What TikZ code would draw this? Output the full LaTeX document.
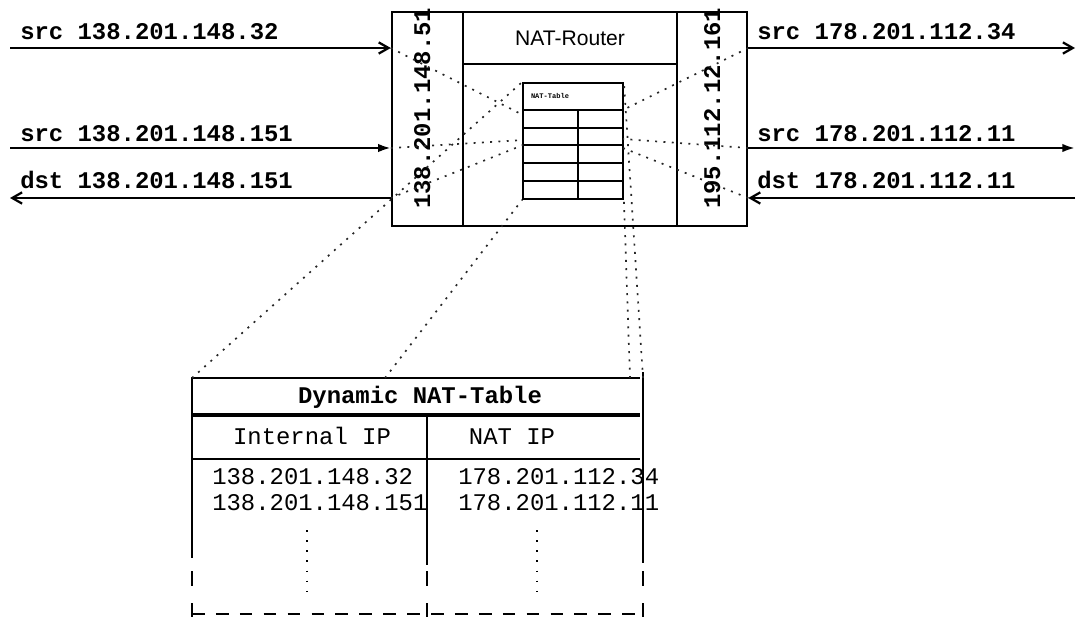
\documentclass[tikz,border=0pt]{standalone}
\usepackage{fontspec}
\setmainfont{Liberation Sans}
\setmonofont{Liberation Mono}
\usetikzlibrary{arrows.meta, positioning, fit}

\begin{document}
\begin{tikzpicture}[
        x=0.025cm, y=-0.025cm,
        box/.style={draw, line width=1.7pt, inner sep=0pt},
        addr/.style={font=\ttfamily\bfseries\fontsize{17}{19}\selectfont, inner sep=0pt},
        entry/.style={font=\ttfamily\fontsize{17}{19}\selectfont, inner sep=0pt},
        wire/.style={line width=1.6pt},
        zoomline/.style={line width=1.2pt, black!85, dash pattern=on 1.4pt off 4.5pt},
        openhead/.style={-{Straight Barb[length=7pt,width=8pt]}},
        fullhead/.style={-{Latex[length=9pt,width=6pt]}}
    ]
    \useasboundingbox (0,0) rectangle (1078,617);

    % Router with its two ports
    \node[box, fit={(392,12) (747,226)}] (router) {};
    \node[box, fit={(392,12) (463,226)}] (inport) {};
    \node[box, fit={(677,12) (747,226)}] (outport) {};
    \node[box, fit={(463,12) (677,64)}] (rtitle) {};
    \node[font=\fontsize{15}{17}\selectfont] (rname) at (rtitle.center) {NAT-Router};

    % Port addresses
    \node[addr, rotate=90, anchor=base west] (inaddr) at (430,209) {138.201.148.51};
    \node[addr, rotate=90, anchor=base west] (outaddr) at (720,209) {195.112.12.161};

    % Small NAT table inside the router
    \node[draw, line width=1.3pt, inner sep=0pt, fit={(523,83) (623,199)}] (minitab) {};
    \foreach \y in {110,128,145,163,181} {
        \draw[line width=1.3pt] (minitab.west |- 0,\y) -- (minitab.east |- 0,\y);
    }
    \draw[line width=1.3pt] (578,110) -- (578,199);
    \node[font=\ttfamily\bfseries\fontsize{5}{6}\selectfont, inner sep=0pt] (minititle) at (550,96) {NAT-Table};
    \coordinate (row1w) at (523,115);
    \coordinate (row2w) at (523,140);
    \coordinate (row3w) at (523,145);
    \coordinate (row1e) at (623,110);
    \coordinate (row2e) at (623,139);
    \coordinate (row3e) at (623,148);

    % Inside network
    \coordinate (inA) at (10,48);
    \coordinate (inB) at (10,148);
    \coordinate (inC) at (10,198);
    \draw[wire, openhead] (inA) -- (inA -| router.west);
    \draw[wire, fullhead] (inB) -- (inB -| router.west);
    \draw[wire, openhead] (inC -| router.west) -- (inC);
    \node[addr, anchor=base west] (labA) at (20,40) {src 138.201.148.32};
    \node[addr, anchor=base west] (labB) at (20,142) {src 138.201.148.151};
    \node[addr, anchor=base west] (labC) at (20,189) {dst 138.201.148.151};

    % Outside network
    \coordinate (outA) at (1075,48);
    \coordinate (outB) at (1075,148);
    \coordinate (outC) at (1075,198);
    \draw[wire, openhead] (outA -| router.east) -- (outA);
    \draw[wire, fullhead] (outB -| router.east) -- (outB);
    \draw[wire, openhead] (outC) -- (outC -| router.east);
    \node[addr, anchor=base west] (labD) at (757,40) {src 178.201.112.34};
    \node[addr, anchor=base west] (labE) at (757,142) {src 178.201.112.11};
    \node[addr, anchor=base west] (labF) at (757,189) {dst 178.201.112.11};

    % Packets to table rows
    \draw[zoomline] (inA -| router.west) -- (row1w);
    \draw[zoomline] (inB -| router.west) -- (row2w);
    \draw[zoomline] (inC -| router.west) -- (row3w);
    \draw[zoomline] (outA -| router.east) -- (row1e);
    \draw[zoomline] (outB -| router.east) -- (row2e);
    \draw[zoomline] (outC -| router.east) -- (row3e);

    % Dynamic NAT table (enlarged)
    \coordinate (bignw) at (192,378);
    \coordinate (bigmid) at (385,378);
    \coordinate (bigne) at (643,378);
    \coordinate (bigdiv) at (630,378);
    \draw[line width=2pt] (192,378) -- (640,378);
    \draw[line width=2.4pt] (192,415) -- (640,415);
    \draw[line width=1.5pt] (192,459) -- (640,459);
    \draw[line width=2pt] (192,377) -- (192,558);
    \draw[line width=2pt] (427,415) -- (427,565);
    \draw[line width=1.2pt] (643,372) -- (643,563);
    \foreach \x/\w in {192/2pt, 427/2pt, 643/1.2pt} {
        \draw[line width=\w] (\x,571) -- (\x,586);
        \draw[line width=\w] (\x,603) -- (\x,617);
    }
    \draw[line width=1.8pt, dash pattern=on 9pt off 8pt] (192,614) -- (640,614);

    \node[addr, anchor=base] (bigtitle) at (420,403) {Dynamic NAT-Table};
    \node[entry, anchor=base] (colint) at (312,444) {Internal IP};
    \node[entry, anchor=base] (colnat) at (512,444) {NAT IP};
    \node[entry, anchor=base west] (intA) at (212,484) {138.201.148.32};
    \node[entry, anchor=base west] (intB) at (212,510) {138.201.148.151};
    \node[entry, anchor=base west] (natA) at (458,484) {178.201.112.34};
    \node[entry, anchor=base west] (natB) at (458,510) {178.201.112.11};
    \draw[line width=1pt, dash pattern=on 1.2pt off 6pt] (307,530) -- (307,600);
    \draw[line width=1pt, dash pattern=on 1.2pt off 6pt] (537,530) -- (537,600);

    % Zoom lines from the small table
    \draw[zoomline] (bignw) -- (minitab.north west);
    \draw[zoomline] (bigmid) -- (minitab.south west);
    \draw[zoomline] (bigne) -- (minitab.north east);
    \draw[zoomline] (bigdiv) -- (minitab.south east);

\end{tikzpicture}
\end{document}
